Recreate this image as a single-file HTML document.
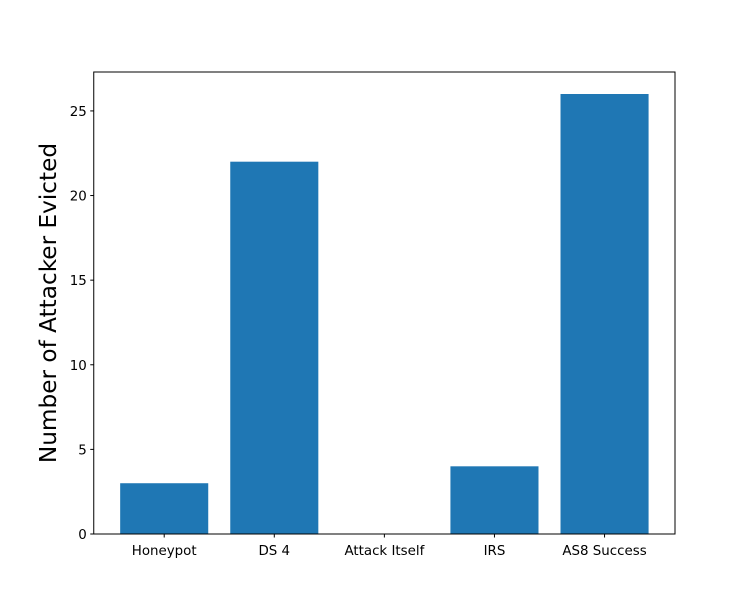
<!DOCTYPE html>
<html><head><meta charset="utf-8"><style>body{margin:0;background:#fff}svg{display:block}text{font-family:"DejaVu Sans","Liberation Sans",sans-serif}</style></head>
<body>
<svg id="chart" width="750" height="600" xmlns="http://www.w3.org/2000/svg"></svg>
<script>
const categories = ["Honeypot", "DS 4", "Attack Itself", "IRS", "AS8 Success"];
const values = [3, 22, 0, 4, 26];
const yTicks = [0, 5, 10, 15, 20, 25];

const L = 93.75, R = 675, T = 72, B = 534;
const ymax = Math.max(...values) * 1.05;
const xmin = -0.64, xmax = categories.length - 1 + 0.64;
const xs = v => L + (v - xmin) / (xmax - xmin) * (R - L);
const ys = v => B - v / ymax * (B - T);
const svg = document.getElementById('chart');
const NS = "http://www.w3.org/2000/svg";
function mk(tag, attrs, txt) {
  const e = document.createElementNS(NS, tag);
  for (const k in attrs) e.setAttribute(k, attrs[k]);
  if (txt !== undefined) e.textContent = txt;
  svg.appendChild(e);
  return e;
}
values.forEach((v, i) => {
  const r = mk('rect', {x: xs(i - 0.4), y: ys(v), width: xs(i + 0.4) - xs(i - 0.4), height: B - ys(v), fill: '#1f77b4'});
  
  
});
const frame = mk('rect', {x: L, y: T, width: R - L, height: B - T, fill: 'none', stroke: '#000', 'stroke-width': 1});


categories.forEach((c, i) => {
  const tk = mk('line', {x1: xs(i), x2: xs(i), y1: B, y2: B + 3.5, stroke: '#000'});
  
  
  const t = mk('text', {x: xs(i), y: B + 21, 'text-anchor': 'middle', 'font-size': 13.4}, c);
  
  
});
yTicks.forEach(v => {
  const tk = mk('line', {x1: L - 3.5, x2: L, y1: ys(v), y2: ys(v), stroke: '#000'});
  
  
  const t = mk('text', {x: L - 7, y: ys(v) + 5, 'text-anchor': 'end', 'font-size': 13.4}, v);
  
  
});
const yl = mk('text', {x: 0, y: 0, 'text-anchor': 'middle', 'font-size': 23.2, transform: 'translate(56,' + ((T + B) / 2) + ') rotate(-90)'}, 'Number of Attacker Evicted');


</script>
</body></html>
